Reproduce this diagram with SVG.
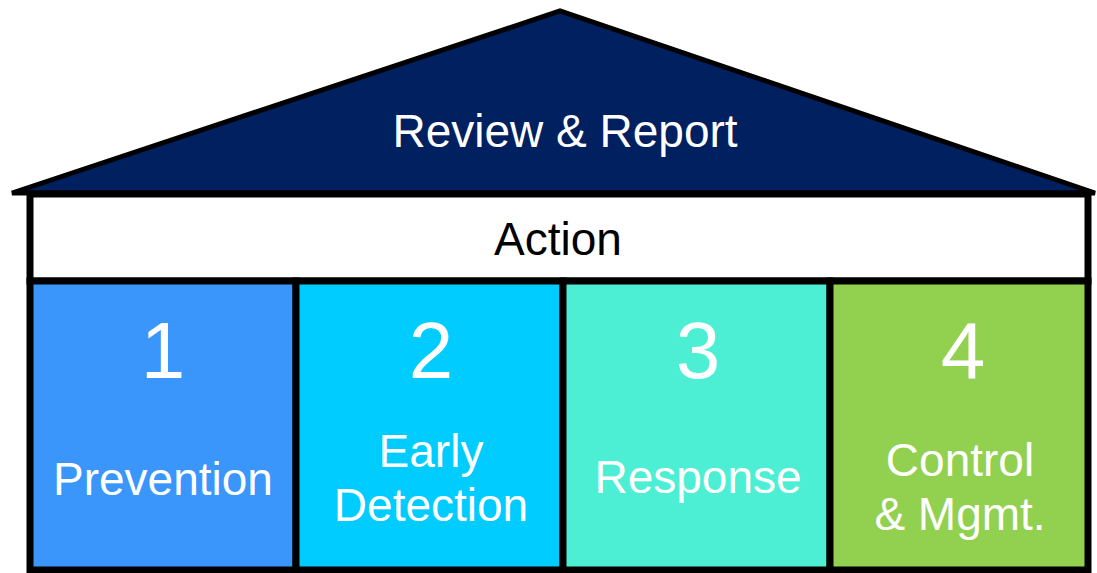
<svg xmlns="http://www.w3.org/2000/svg" width="1097" height="573" viewBox="0 0 1097 573">
<style>
.t{font-family:"Liberation Sans",Arial,sans-serif;fill:#fff;text-anchor:middle}
.lbl{font-size:46px}
.num{font-size:80px}
.box{stroke:#000;stroke-width:7}
</style>
<rect width="1097" height="573" fill="#fff"/>
<g id="roof">
<polygon points="12,193 560,11 1095,193" fill="#002060" stroke="#000" stroke-width="5" stroke-linejoin="miter"/>
<text class="t lbl" x="565" y="147">Review &amp; Report</text>
</g>
<g id="action">
<rect class="box" x="30" y="194" width="1058" height="87" fill="#fff"/>
<text class="t lbl" x="558" y="255" style="fill:#000">Action</text>
</g>
<g id="col1">
<rect class="box" x="30" y="281" width="266" height="289" fill="#3A96FA"/>
<text class="t num" x="163" y="378">1</text>
<text class="t lbl" x="163" y="495">Prevention</text>
</g>
<g id="col2">
<rect class="box" x="296" y="281" width="267" height="289" fill="#00CCFF"/>
<text class="t num" x="431" y="378">2</text>
<text class="t lbl" x="431" y="467">Early</text>
<text class="t lbl" x="431" y="521">Detection</text>
</g>
<g id="col3">
<rect class="box" x="563" y="281" width="267" height="289" fill="#4CEFD4"/>
<text class="t num" x="698" y="378">3</text>
<text class="t lbl" x="698" y="493">Response</text>
</g>
<g id="col4">
<rect class="box" x="830" y="281" width="258" height="289" fill="#92D050"/>
<text class="t num" x="963" y="378">4</text>
<text class="t lbl" x="960" y="476">Control</text>
<text class="t lbl" x="960" y="530">&amp; Mgmt.</text>
</g>
<g id="connectors"/>
</svg>
